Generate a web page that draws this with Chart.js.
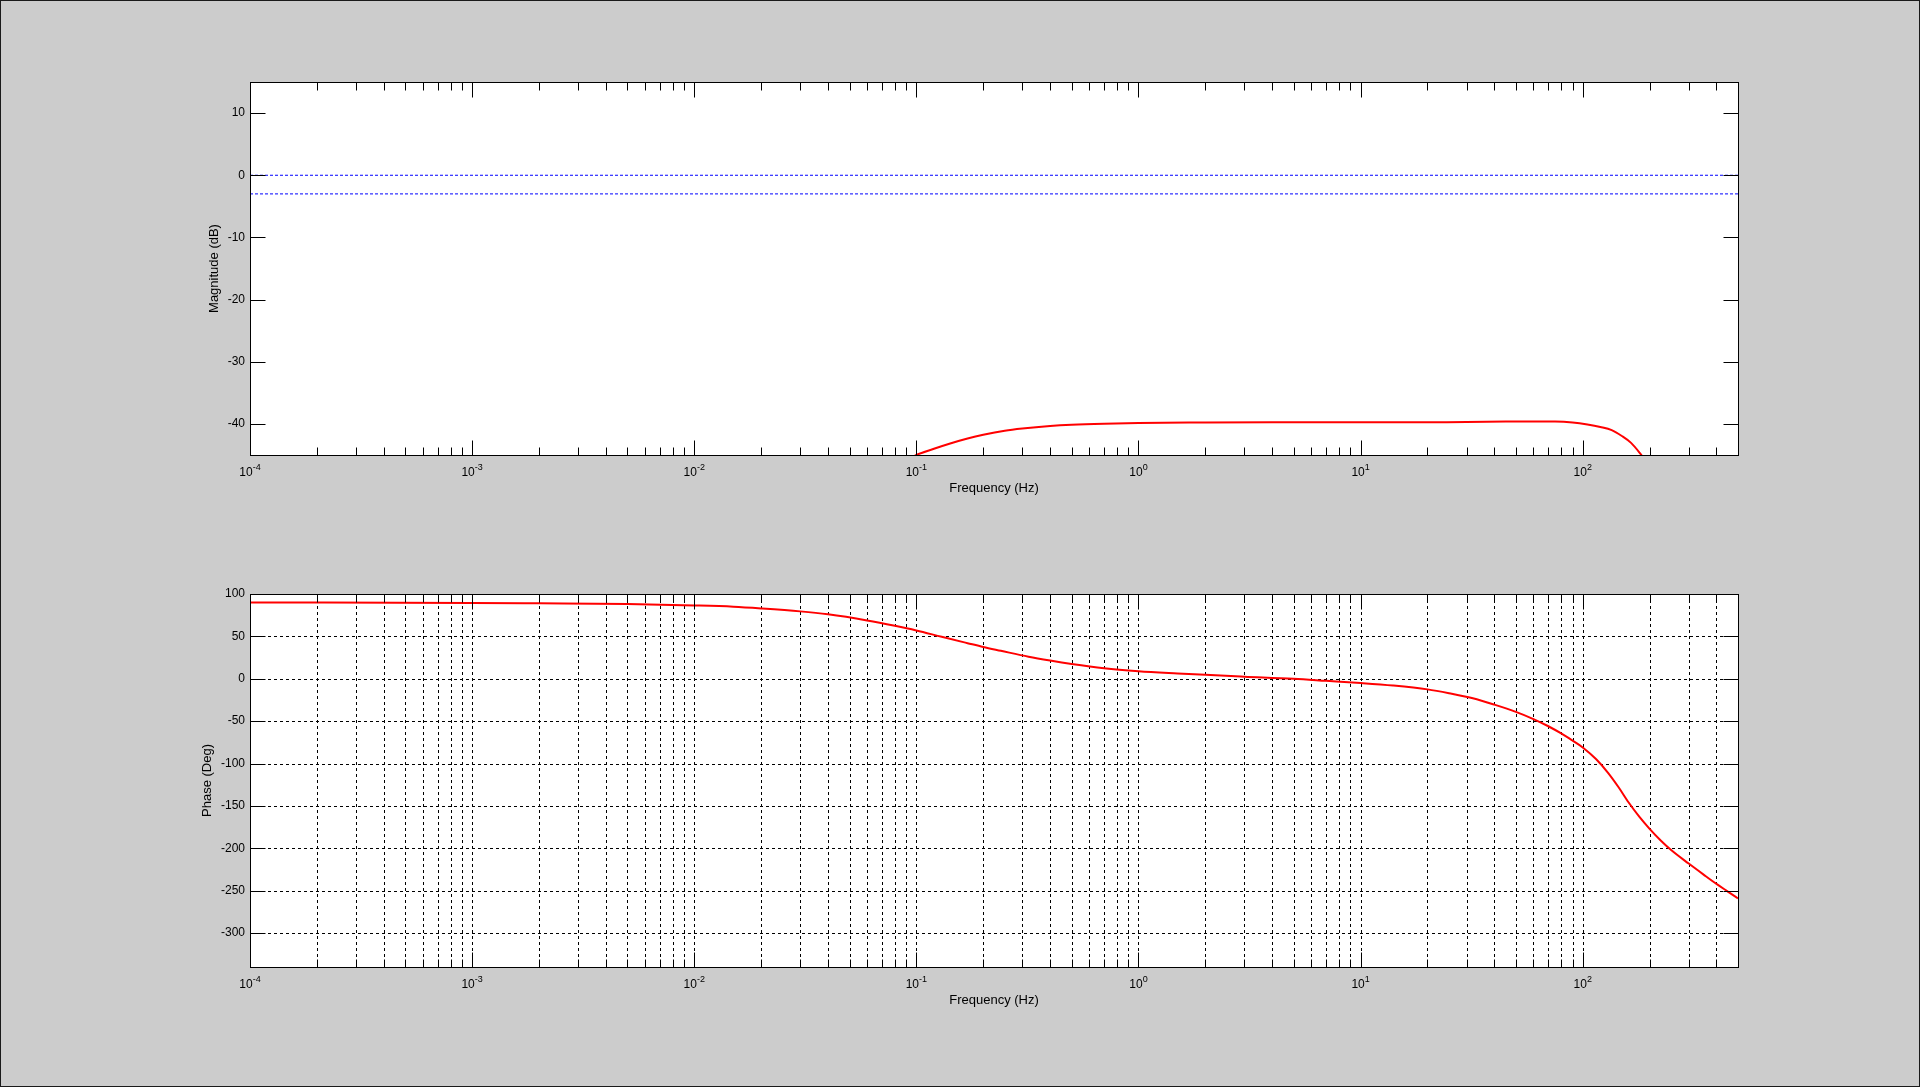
<!DOCTYPE html>
<html><head><meta charset="utf-8">
<script src="https://cdn.jsdelivr.net/npm/chart.js@4.4.1/dist/chart.umd.min.js"></script>
<style>
html,body{margin:0;padding:0;background:#cccccc;overflow:hidden;}
#wrap{position:relative;width:1920px;height:1087px;}
canvas{position:absolute;left:0;top:0;}
#frame{position:absolute;left:0;top:0;width:1920px;height:1087px;box-sizing:border-box;border:1px solid #1a1a1a;pointer-events:none;}
</style></head><body>
<div id="wrap">
<canvas id="mag" width="1920" height="1087"></canvas>
<canvas id="phase" width="1920" height="1087"></canvas>
<div id="frame"></div>
</div>
<script>
// ---- data ----
const magFreq = [0.085, 0.1, 0.12, 0.142, 0.17, 0.2, 0.25, 0.3, 0.4, 0.5, 0.7, 1, 2, 5, 10, 20, 30, 45, 60, 75, 90, 105, 120, 135, 150, 165, 180, 195];
const magDb   = [-46.5, -45, -44.0, -43.15, -42.35, -41.75, -41.1, -40.75, -40.35, -40.15, -39.97, -39.85, -39.78, -39.75, -39.75, -39.72, -39.7, -39.62, -39.6, -39.62, -39.78, -40.1, -40.5, -41.0, -41.95, -43.05, -44.6, -46.3];

const refFreq  = [1e-4, 500];
const zeroDb   = [0, 0];
const minus3Db = [-3, -3];

const phaseFreq = [1e-4, 1e-3, 2e-3, 5e-3, 0.01, 0.015, 0.02, 0.03, 0.04, 0.06, 0.08, 0.1, 0.13, 0.17, 0.2, 0.24, 0.32, 0.4, 0.5, 0.7, 1, 1.5, 2, 3, 5, 7, 10, 14, 20, 25, 32, 40, 50, 60, 70, 80, 90, 100, 115, 130, 145, 161, 180, 200, 225, 250, 300, 350, 400, 450, 500];
const phaseDeg  = [90, 89.5, 89, 88.2, 86.5, 85, 83, 79.5, 76, 68.8, 62.5, 57, 49.5, 42, 37.5, 33, 26, 21.5, 17.5, 12.5, 9, 6.3, 4.6, 2.5, 0, -2.4, -5, -8, -12.5, -17, -23, -30.5, -39, -47.5, -56, -64.5, -73, -81, -95, -111, -128, -146, -163, -177, -191, -202, -218, -231, -242, -251, -259];

const tickExponents = [-4, -3, -2, -1, 0, 1, 2];
const minorMultipliers = [1, 2, 3, 4, 5, 6, 7, 8, 9];
const magTicks   = [-40, -30, -20, -10, 0, 10];
const phaseTicks = [-300, -250, -200, -150, -100, -50, 0, 50, 100];

const X_MIN = 1e-4, X_MAX = 500;
const FONT = '"Liberation Sans", Arial, sans-serif';

const xTickValues = [];
tickExponents.forEach(e => minorMultipliers.forEach(m => {
  const v = m * Math.pow(10, e);
  if (v < X_MAX) xTickValues.push({ v: v, major: m === 1 });
}));

function pts(xs, ys) { return xs.map((x, i) => ({ x: x, y: ys[i] })); }

function decoPlugin(cfg) {
  function line(ctx, x1, y1, x2, y2) { ctx.beginPath(); ctx.moveTo(x1, y1); ctx.lineTo(x2, y2); ctx.stroke(); }
  return {
    id: 'deco_' + cfg.name,
    beforeDraw(chart) {
      const { ctx, chartArea: a } = chart;
      ctx.save();
      ctx.fillStyle = '#ffffff';
      ctx.fillRect(a.left, a.top, a.right - a.left, a.bottom - a.top);
      ctx.restore();
    },
    beforeDatasetsDraw(chart) {
      if (!cfg.grid) return;
      const { ctx, chartArea: a, scales: { x, y } } = chart;
      ctx.save();
      ctx.strokeStyle = '#000'; ctx.lineWidth = 1; ctx.setLineDash([3, 3]);
      xTickValues.forEach(t => {
        const px = Math.round(x.getPixelForValue(t.v)) + 0.5;
        line(ctx, px, a.top, px, a.bottom);
      });
      cfg.yTicks.forEach(v => {
        const py = Math.round(y.getPixelForValue(v)) + 0.5;
        line(ctx, a.left, py, a.right, py);
      });
      ctx.restore();
    },
    afterDatasetsDraw(chart) {
      const { ctx, chartArea: a, scales: { x, y } } = chart;
      ctx.save();
      ctx.strokeStyle = '#000'; ctx.lineWidth = 1; ctx.setLineDash([]);
      const L = Math.round(a.left) + 0.5, R = Math.round(a.right) + 0.5;
      const T = Math.round(a.top) + 0.5, B = Math.round(a.bottom) + 0.5;
      xTickValues.forEach(t => {
        const px = Math.round(x.getPixelForValue(t.v)) + 0.5;
        const len = t.major ? 15 : 8;
        line(ctx, px, B, px, B - len);
        line(ctx, px, T, px, T + len);
      });
      cfg.yTicks.forEach(v => {
        const py = Math.round(y.getPixelForValue(v)) + 0.5;
        line(ctx, L, py, L + 15, py);
        line(ctx, R, py, R - 15, py);
      });
      ctx.strokeRect(L, T, R - L, B - T);

      // x tick labels 10^n
      ctx.fillStyle = '#000';
      ctx.textBaseline = 'alphabetic';
      ctx.textAlign = 'left';
      tickExponents.forEach(e => {
        const px = x.getPixelForValue(Math.pow(10, e));
        ctx.font = '12px ' + FONT;
        const w1 = ctx.measureText('10').width;
        ctx.font = '9px ' + FONT;
        const es = String(e);
        const w2 = ctx.measureText(es).width;
        const sx = px - (w1 + w2) / 2;
        ctx.font = '12px ' + FONT;
        ctx.fillText('10', sx, a.bottom + 21);
        ctx.font = '9px ' + FONT;
        ctx.fillText(es, sx + w1, a.bottom + 14.5);
      });
      // axis titles
      ctx.font = '13px ' + FONT;
      ctx.textAlign = 'center';
      ctx.fillText('Frequency (Hz)', (a.left + a.right) / 2, a.bottom + 37);
      ctx.save();
      ctx.translate(cfg.yTitleX, (a.top + a.bottom) / 2);
      ctx.rotate(-Math.PI / 2);
      ctx.textBaseline = 'middle';
      ctx.fillText(cfg.yTitle, 0, 0);
      ctx.restore();
      ctx.restore();
    }
  };
}

function makeOptions(yMin, yMax, yTicks, padTop, padBottom) {
  return {
    responsive: false,
    animation: false,
    events: [],
    layout: { padding: { left: 0, right: 182, top: padTop, bottom: padBottom } },
    plugins: { legend: { display: false }, tooltip: { enabled: false }, title: { display: false } },
    elements: { point: { radius: 0 } },
    scales: {
      x: { type: 'logarithmic', min: X_MIN, max: X_MAX, display: false },
      y: {
        type: 'linear', min: yMin, max: yMax,
        afterBuildTicks: s => { s.ticks = yTicks.map(v => ({ value: v })); },
        afterFit: s => { s.width = 250; },
        grid: { display: false, drawTicks: false },
        border: { display: false },
        ticks: { font: { family: FONT, size: 12 }, color: '#000', padding: 5, autoSkip: false, callback: v => String(v) }
      }
    }
  };
}

new Chart(document.getElementById('mag'), {
  type: 'line',
  data: {
    datasets: [
      { data: pts(refFreq, zeroDb), borderColor: '#0000ff', borderWidth: 1, borderDash: [3, 2], clip: 0 },
      { data: pts(refFreq, minus3Db), borderColor: '#0000ff', borderWidth: 1, borderDash: [3, 2], clip: 0 },
      { data: pts(magFreq, magDb), borderColor: '#ff0000', borderWidth: 2, cubicInterpolationMode: 'monotone', clip: 0 }
    ]
  },
  options: makeOptions(-45, 15, magTicks, 82, 1087 - 455),
  plugins: [decoPlugin({ name: 'mag', grid: false, yTicks: magTicks, yTitle: 'Magnitude (dB)', yTitleX: 214 })]
});

new Chart(document.getElementById('phase'), {
  type: 'line',
  data: {
    datasets: [
      { data: pts(phaseFreq, phaseDeg), borderColor: '#ff0000', borderWidth: 2, cubicInterpolationMode: 'monotone', clip: 0 }
    ]
  },
  options: makeOptions(-340, 100, phaseTicks, 594, 1087 - 967),
  plugins: [decoPlugin({ name: 'phase', grid: true, yTicks: phaseTicks, yTitle: 'Phase (Deg)', yTitleX: 207 })]
});
</script>
</body></html>
